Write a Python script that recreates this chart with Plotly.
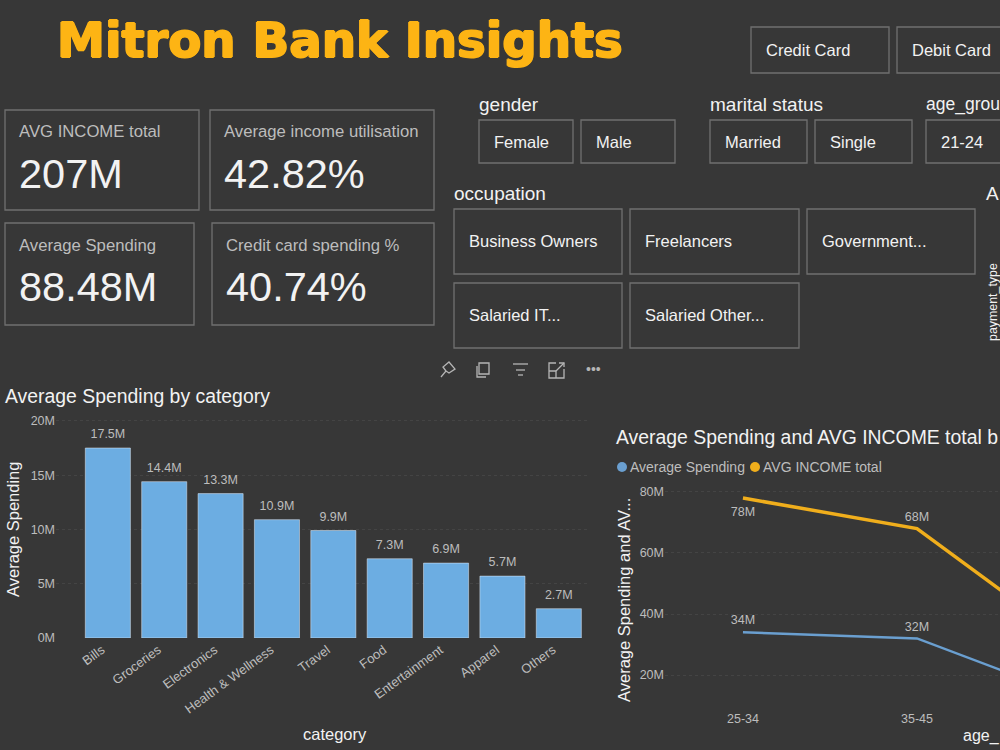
import plotly.graph_objects as go

# chart data
categories = ["Bills", "Groceries", "Electronics", "Health & Wellness", "Travel",
              "Food", "Entertainment", "Apparel", "Others"]
category_spending = [17.5, 14.4, 13.3, 10.9, 9.9, 7.3, 6.9, 5.7, 2.7]
spending_ticks = [0, 5, 10, 15, 20]

age_groups = ["25-34", "35-45", "45+"]
age_spending = [34, 32, 10.5]   # last point runs off the picture, estimated
age_income = [78, 68, 26]
age_ticks = [20, 40, 60, 80]

kpi_names = ["AVG INCOME total", "Average income utilisation", "Average Spending", "Credit card spending %"]
kpi_values = ["207M", "42.82%", "88.48M", "40.74%"]

card_types = ["Credit Card", "Debit Card"]
genders = ["Female", "Male"]
marital = ["Married", "Single"]
ages = ["21-24"]
occupations = ["Business Owners", "Freelancers", "Government...", "Salaried IT...", "Salaried Other..."]

W, H = 1000, 750
BG = "#373737"
BORDER = "#707070"
WHITE = "#f2f2f2"
GREY = "#bdbdbd"
BAR_BLUE = "#6cade2"
LINE_BLUE = "#6a9fd0"
ORANGE = "#f0ae1c"
TITLE_ORANGE = "#fdb414"
FONT = "Liberation Sans"

shapes = []
notes = []


# pixel position to paper position
def px(x):
    return x / W


def py(y):
    return 1 - y / H


def box(x0, y0, x1, y1):
    shapes.append(dict(type="rect", xref="paper", yref="paper", x0=px(x0), x1=px(x1),
                       y0=py(y0), y1=py(y1), line=dict(color=BORDER, width=1.3)))


def dot(x, y, color):
    shapes.append(dict(type="circle", xref="paper", yref="paper", x0=px(x - 5), x1=px(x + 5),
                       y0=py(y - 5), y1=py(y + 5), fillcolor=color, line=dict(width=0)))


def text(x, y, s, size=14, color=WHITE, anchor="left", angle=0, family=FONT, shadow=None):
    if anchor == "left":
        x = x - 2  # annotations have a little padding
    font = dict(size=size, color=color, family=family)
    if shadow:
        font["shadow"] = shadow
    notes.append(dict(xref="paper", yref="paper", x=px(x), y=py(y), text=s, showarrow=False,
                      xanchor=anchor, yanchor="middle", textangle=angle, font=font))


def icon(points, closed=False):
    path = "M " + " L ".join(f"{px(a)} {py(b)}" for a, b in points)
    if closed:
        path += " Z"
    shapes.append(dict(type="path", xref="paper", yref="paper", path=path,
                       line=dict(color="#b5b5b5", width=1.3)))


fig = go.Figure()

# bar chart
fig.add_trace(go.Bar(x=categories, y=category_spending, xaxis="x", yaxis="y",
                     marker=dict(color=BAR_BLUE), width=0.8, showlegend=False))
# bar labels sit higher than textposition outside, hidden markers push them up
fig.add_trace(go.Scatter(x=categories, y=category_spending, xaxis="x", yaxis="y", mode="markers+text",
                         marker=dict(size=9, opacity=0),
                         text=[f"{v}M" for v in category_spending], textposition="top center",
                         textfont=dict(size=12.5, color=GREY, family=FONT), cliponaxis=False,
                         showlegend=False))

# line chart, labels only for the two points that are in the picture
fig.add_trace(go.Scatter(x=age_groups, y=age_income, xaxis="x2", yaxis="y2", mode="lines+markers+text",
                         line=dict(color=ORANGE, width=3.5), marker=dict(size=[12, 6, 6], opacity=0),
                         text=[f"{round(v)}M" for v in age_income[:2]] + [""],
                         textposition=["bottom center", "top center", "top center"],
                         textfont=dict(size=12.5, color=GREY, family=FONT), showlegend=False))
fig.add_trace(go.Scatter(x=age_groups, y=age_spending, xaxis="x2", yaxis="y2", mode="lines+markers+text",
                         line=dict(color=LINE_BLUE, width=2.5), marker=dict(size=6, opacity=0),
                         text=[f"{round(v)}M" for v in age_spending[:2]] + [""],
                         textposition="top center",
                         textfont=dict(size=12.5, color=GREY, family=FONT), showlegend=False))

# heading, shadow makes the bold heavier
text(57, 40, "<b>Mitron Bank Insights</b>", size=48.2, color=TITLE_ORANGE, family="DejaVu Sans",
     shadow=f"1px 0 0 {TITLE_ORANGE}, -1px 0 0 {TITLE_ORANGE}, 0 1px 0 {TITLE_ORANGE}, 0 -1px 0 {TITLE_ORANGE}")

# KPI cards
kpi_boxes = [(5, 110, 199, 210), (210, 110, 434, 210), (5, 223, 194, 325), (212, 223, 434, 325)]
for (x0, y0, x1, y1), name, value in zip(kpi_boxes, kpi_names, kpi_values):
    box(x0, y0, x1, y1)
    text(x0 + 14, y0 + 22, name, size=16.7, color=GREY)
    text(x0 + 14, y0 + 63, value, size=41.5)

# slicers
slicer_boxes = [(751, 27, 889, 73), (897, 27, 1010, 73)]
for (x0, y0, x1, y1), name in zip(slicer_boxes, card_types):
    box(x0, y0, x1, y1)
    text(x0 + 15, (y0 + y1) / 2, name, size=16.5)

row_labels = genders + marital + ages
row_boxes = [(479, 120, 573, 163), (581, 120, 675, 163), (710, 120, 807, 163),
             (815, 120, 912, 163), (926, 120, 1010, 163)]
for (x0, y0, x1, y1), name in zip(row_boxes, row_labels):
    box(x0, y0, x1, y1)
    text(x0 + 15, (y0 + y1) / 2, name, size=16.5)

occ_boxes = [(454, 209, 622, 274), (630, 209, 799, 274), (807, 209, 975, 274),
             (454, 283, 622, 348), (630, 283, 799, 348)]
for (x0, y0, x1, y1), name in zip(occ_boxes, occupations):
    box(x0, y0, x1, y1)
    text(x0 + 15, (y0 + y1) / 2 - 1, name, size=16.5)

text(479, 104, "gender", size=19)
text(710, 104, "marital status", size=19)
text(926, 104, "age_grou", size=17.5)
text(454, 193, "occupation", size=19)
text(986, 193, "A", size=19)
text(993, 302, "payment_type", size=12.4, angle=-90, anchor="center")

# visual header icons
icon([(441, 377), (446, 371), (443, 367), (449, 362), (455, 369), (449, 373), (446, 371)])
icon([(479, 363), (489, 363), (489, 374), (479, 374)], closed=True)
icon([(477, 366), (477, 377), (486, 377)])
icon([(513, 364), (528, 364)])
icon([(516, 370), (525, 370)])
icon([(518, 375), (523, 375)])
icon([(556, 363), (549, 363), (549, 378), (564, 378), (564, 369)])
icon([(556, 371), (564, 363)])
icon([(559, 363), (564, 363), (564, 367)])
icon([(549, 371), (556, 371), (556, 378)])
text(593, 369, "•••", size=14, color="#b5b5b5", anchor="center")

# chart titles
text(5, 396, "Average Spending by category", size=19.4)
text(13, 530, "Average Spending", size=16.5, angle=-90, anchor="center")
text(335, 734, "category", size=16.5, anchor="center")
text(616, 437, "Average Spending and AVG INCOME total b", size=19.4)

# legend
dot(622, 467, LINE_BLUE)
text(630, 467, "Average Spending", size=14, color=GREY)
dot(755, 467, ORANGE)
text(763, 467, "AVG INCOME total", size=14, color=GREY)

text(624, 600, "Average Spending and AV...", size=16.5, angle=-90, anchor="center")
text(963, 736, "age_", size=16)

fig.update_layout(
    width=W, height=H, margin=dict(l=0, r=0, t=0, b=0, autoexpand=False),
    paper_bgcolor=BG, plot_bgcolor=BG, shapes=shapes, annotations=notes,
    font=dict(family=FONT), bargap=0.2,
    xaxis=dict(domain=[px(56), px(587)], range=[-0.92, 8.5], showgrid=False, zeroline=False,
               automargin=False, tickangle=-36, ticklen=0, ticklabelstandoff=1, ticklabelshift=-6,
               tickfont=dict(size=13, color=GREY)),
    yaxis=dict(domain=[py(638), py(410)], range=[0, 21], tickvals=spending_ticks,
               ticktext=[f"{v}M" for v in spending_ticks], anchor="x", automargin=False,
               gridcolor="#444444", griddash="dot", zeroline=False,
               ticklen=0, tickfont=dict(size=12.5, color=GREY)),
    xaxis2=dict(domain=[px(665), 1], range=[-0.448, 1.477], showgrid=False, zeroline=False,
                automargin=False, anchor="y2", ticklen=0, ticklabelstandoff=4,
                tickfont=dict(size=12.5, color=GREY)),
    yaxis2=dict(domain=[py(705), py(480)], range=[10.2, 83.9], tickvals=age_ticks,
                ticktext=[f"{v}M" for v in age_ticks], anchor="x2", automargin=False,
                gridcolor="#444444", griddash="dot", zeroline=False,
                ticklen=0, tickfont=dict(size=12.5, color=GREY)),
)

# page margin off so the figure fills the window
fig.write_html("out.html", config=dict(displayModeBar=False),
               post_script="document.body.style.margin='0';")
